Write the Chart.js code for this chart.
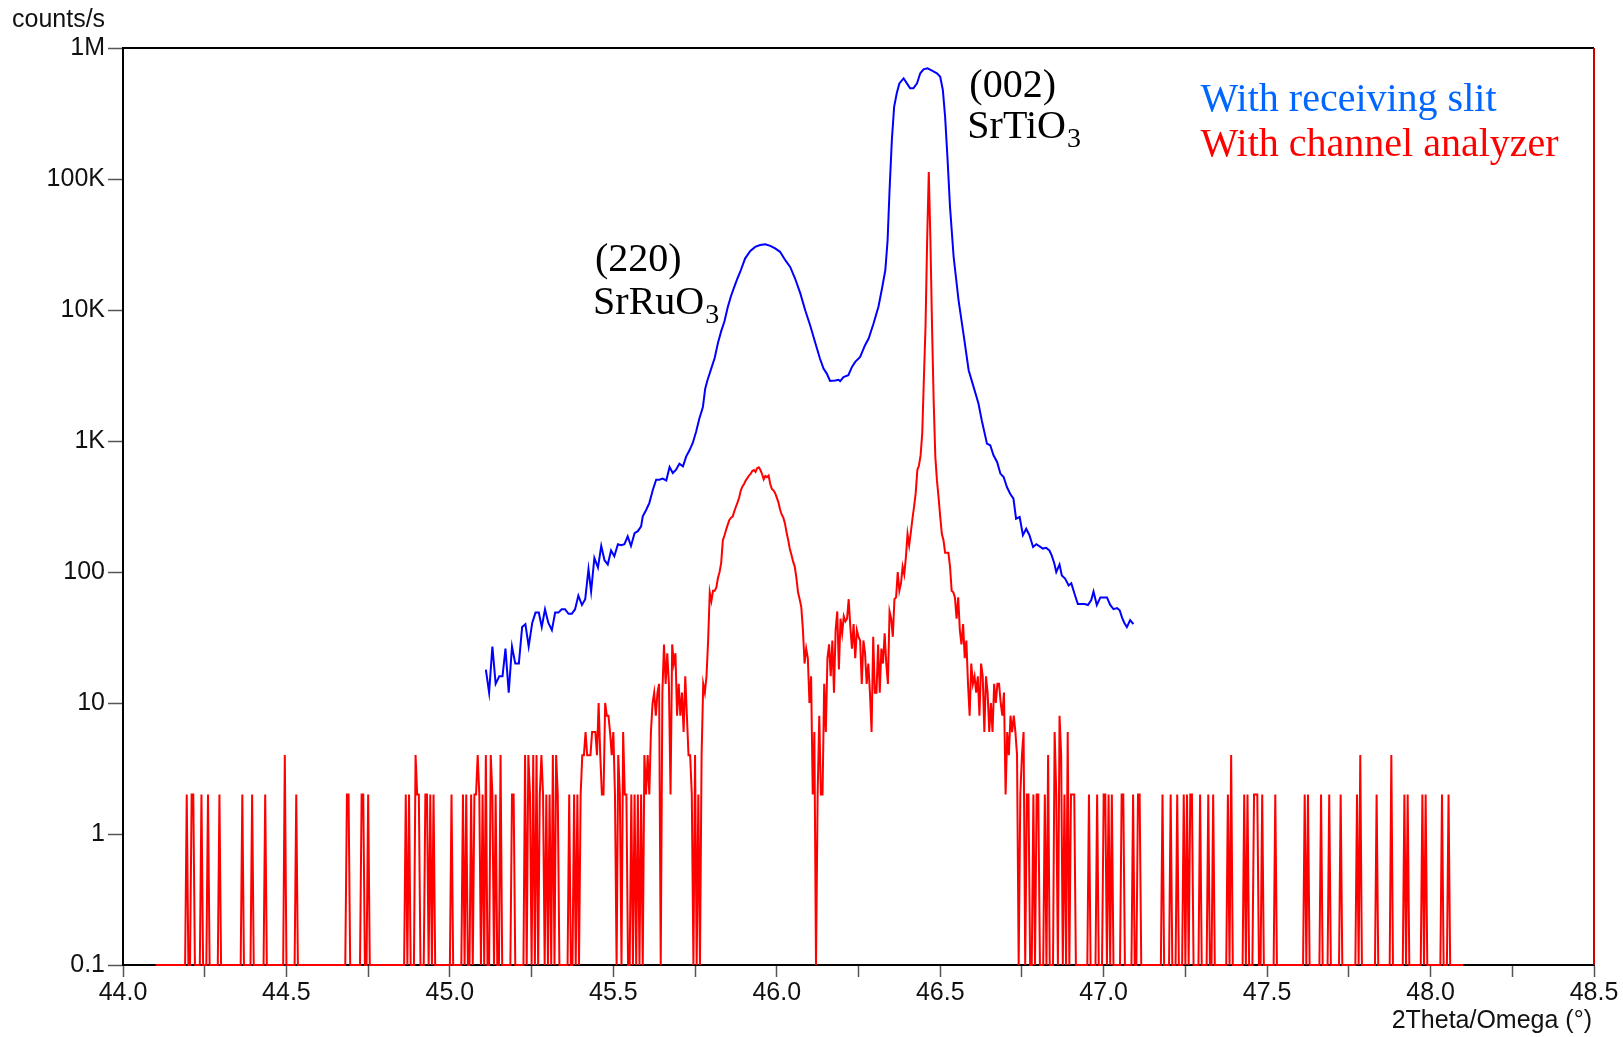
<!DOCTYPE html>
<html>
<head>
<meta charset="utf-8">
<script src="https://cdn.jsdelivr.net/npm/chart.js@4.4.0/dist/chart.umd.min.js"></script>
<style>
  html, body { margin: 0; padding: 0; background: #fff; }
  canvas { display: block; }
</style>
</head>
<body>
<canvas id="chart" width="1623" height="1037"></canvas>
<script>
// 2Theta/Omega scans around SrTiO3 (002) / SrRuO3 (220), two detector setups

// with receiving slit: [2theta, counts/s]
const slitScan = [
  [45.110,18],[45.120,12],[45.130,27],[45.140,14],[45.151,16],[45.161,16],[45.170,26],[45.180,12],[45.190,27],[45.200,20],
  [45.211,20],[45.221,38],[45.231,40],[45.241,27],[45.252,41],[45.262,49],[45.272,49],[45.281,38],[45.291,52],[45.301,41],
  [45.312,36],[45.322,49],[45.332,49],[45.342,52],[45.352,52],[45.363,48],[45.373,48],[45.383,52],[45.393,66],[45.404,56],
  [45.414,62],[45.424,105],[45.432,71],[45.442,128],[45.453,108],[45.463,158],[45.473,123],[45.483,114],[45.493,146],[45.503,132],
  [45.514,163],[45.524,160],[45.534,163],[45.544,187],[45.554,158],[45.565,198],[45.575,205],[45.585,223],[45.590,266],[45.600,296],
  [45.610,336],[45.621,425],[45.631,507],[45.641,507],[45.651,516],[45.662,500],[45.672,633],[45.682,570],[45.692,604],[45.702,671],
  [45.713,641],[45.723,764],[45.733,849],[45.743,966],[45.753,1170],[45.763,1480],[45.774,1820],[45.781,2510],[45.788,2910],[45.800,3600],
  [45.810,4300],[45.820,5600],[45.830,6900],[45.840,8200],[45.850,10500],[45.860,12800],[45.870,15000],[45.880,17500],[45.888,19500],[45.903,24700],
  [45.919,28200],[45.934,30300],[45.949,31300],[45.965,31800],[45.980,30900],[45.995,29500],[46.010,27800],[46.026,24000],[46.041,21300],[46.056,17400],
  [46.072,13400],[46.087,9950],[46.102,7650],[46.117,5700],[46.132,4260],[46.143,3570],[46.153,3270],[46.163,2870],[46.179,2900],[46.189,2930],
  [46.194,2870],[46.204,3080],[46.219,3180],[46.230,3680],[46.240,4020],[46.255,4390],[46.270,5390],[46.281,6060],[46.296,7880],[46.311,10600],
  [46.321,14200],[46.332,20100],[46.339,34000],[46.345,82000],[46.352,198000],[46.359,356000],[46.367,451000],[46.375,537000],[46.388,587000],[46.398,537000],
  [46.408,492000],[46.418,492000],[46.429,537000],[46.439,641000],[46.449,688000],[46.461,700000],[46.475,672000],[46.490,641000],[46.500,604000],[46.508,478000],
  [46.515,298000],[46.522,148000],[46.530,61000],[46.541,25500],[46.556,11900],[46.571,6600],[46.587,3470],[46.602,2590],[46.617,1930],[46.627,1440],
  [46.643,955],[46.653,927],[46.663,778],[46.674,692],[46.684,564],[46.694,531],[46.704,445],[46.714,396],[46.724,363],[46.732,255],
  [46.743,263],[46.753,191],[46.763,214],[46.773,191],[46.784,155],[46.794,163],[46.804,157],[46.814,151],[46.824,153],[46.834,146],
  [46.841,134],[46.849,116],[46.855,100],[46.865,114],[46.872,94],[46.882,89],[46.893,79],[46.901,82],[46.911,68],[46.921,57],
  [46.931,57],[46.942,57],[46.952,56],[46.962,61],[46.969,71],[46.979,56],[46.990,64],[47.000,64],[47.010,64],[47.020,56],
  [47.030,52],[47.041,53],[47.049,51],[47.056,45],[47.063,41],[47.071,38],[47.081,43],[47.091,40]
];

// with channel analyzer: counts/s every 0.005 deg from 44.100, one row per 0.1 deg
const analyzerStart = 44.1;
const analyzerStep = 0.005;
const analyzerRows = [
  [0,0,0,0,0,0,0,0,0,0,0,0,0,0,0,0,0,0,0,2],           // 44.1
  [0,0,2,2,0,0,0,0,2,0,0,0,2,0,0,0,0,0,0,2],           // 44.2
  [0,0,0,0,0,0,0,0,0,0,0,0,0,2,0,0,0,0,0,2],           // 44.3
  [0,0,0,0,0,0,0,2,0,0,0,0,0,0,0,0,0,0,0,4],           // 44.4
  [0,0,0,0,0,0,2,0,0,0,0,0,0,0,0,0,0,0,0,0],           // 44.5
  [0,0,0,0,0,0,0,0,0,0,0,0,0,0,0,0,0,2,2,0],           // 44.6
  [0,0,0,0,0,0,2,2,0,0,2,0,0,0,0,0,0,0,0,0],           // 44.7
  [0,0,0,0,0,0,0,0,0,0,0,0,0,2,0,2,0,0,0,4],           // 44.8
  [2,2,0,0,0,2,2,0,2,0,2,0,0,0,0,0,0,0,0,0],           // 44.9
  [0,2,0,0,0,0,0,0,2,0,2,0,0,2,0,2,2,4,2,0],           // 45.0
  [2,0,4,0,0,4,2,0,2,0,0,4,0,0,0,0,0,0,2,2],           // 45.1
  [0,0,0,0,0,0,4,0,4,2,0,4,0,4,0,2,4,2,0,2],           // 45.2
  [0,2,0,4,0,4,2,0,0,0,0,0,0,2,0,0,2,0,2,0],           // 45.3
  [2,4,4,6,4,4,4,6,6,6,4,10,4,2,2,10,8,8,6,4],         // 45.4
  [6,2,0,4,2,0,6,2,2,0,0,2,0,2,0,2,0,2,0,4],           // 45.5
  [2,4,2,6,10,12,8,12,14,0,12,28,14,24,14,2,28,20,24,8], // 45.6
  [14,8,12,6,16,8,4,4,2,0,4,0,2,0,4,14,12,16,30,70],   // 45.7
  [60,72,72,76,90,100,118,175,190,210,230,250,260,265,290,315,340,370,420,450], // 45.8
  [470,500,520,545,560,590,600,580,620,630,600,560,510,540,530,545,470,430,420,400], // 45.9
  [370,340,300,275,260,235,200,175,150,135,120,110,90,70,62,54,36,20,26,22], // 46.0
  [10,16,2,6,0,2,8,2,2,14,6,22,28,16,30,12,36,50,18,44], // 46.1
  [34,46,42,44,62,38,26,40,22,36,32,30,14,30,24,14,20,12,6,32], // 46.2
  [12,12,28,12,26,20,34,20,14,50,44,32,62,64,100,72,82,110,96,130], // 46.3
  [195,160,200,255,315,400,600,650,780,1140,3000,7400,34000,113000,34000,7400,2000,760,500,370], // 46.4
  [265,195,175,140,140,140,110,72,70,64,44,64,36,28,40,22,30,14,8,20], // 46.5
  [14,16,12,16,8,20,16,6,16,12,6,10,6,14,10,14,14,10,8,12], // 46.6
  [2,6,4,8,6,8,6,4,0,2,4,6,0,2,2,0,0,2,0,2],           // 46.7
  [2,0,0,0,2,0,4,0,0,0,6,2,0,8,4,0,2,0,6,0],           // 46.8
  [2,2,2,0,0,0,0,0,0,0,0,2,0,0,0,0,2,0,0,0],           // 46.9
  [2,2,0,2,0,2,0,0,0,0,0,2,2,0,0,0,0,0,2,0],           // 47.0
  [0,2,2,0,0,0,0,0,0,0,0,0,0,0,0,0,2,0,0,0],           // 47.1
  [0,2,0,0,0,2,0,0,0,2,0,2,0,2,2,0,0,0,0,2],           // 47.2
  [0,0,0,0,2,0,0,2,0,0,0,0,0,0,0,0,2,0,4,0],           // 47.3
  [0,0,0,0,0,0,2,0,2,0,0,0,2,2,2,0,0,2,0,0],           // 47.4
  [0,0,0,0,0,2,0,0,0,0,0,0,0,0,0,0,0,0,0,0],           // 47.5
  [0,0,0,2,0,2,0,0,0,0,0,0,0,2,0,0,0,0,2,0],           // 47.6
  [0,0,0,0,0,2,0,0,0,0,0,0,0,0,0,2,0,4,0,0],           // 47.7
  [0,0,0,0,0,0,0,2,0,0,0,0,0,0,0,0,4,0,0,0],           // 47.8
  [0,0,0,0,2,0,2,0,0,0,0,0,0,0,0,2,0,2,0,0],           // 47.9
  [0,0,0,0,0,0,0,2,0,0,0,2,0,0,0,0,0,0,0,0],           // 48.0
  [0]                                                  // 48.1
];

const yDecades = [0.1, 1, 10, 100, 1e3, 1e4, 1e5, 1e6];
const yDecadeLabels = ['0.1', '1', '10', '100', '1K', '10K', '100K', '1M'];

// text placed at [2theta, counts] (left end of baseline)
const peakLabels = [
  {text: '(002)', theta: 46.589, counts: 4.2e5},
  {text: 'SrTiO', sub: '3', theta: 46.583, counts: 2.05e5},
  {text: '(220)', theta: 45.444, counts: 1.98e4},
  {text: 'SrRuO', sub: '3', theta: 45.438, counts: 9.4e3}
];
const legendLines = [
  {text: 'With receiving slit', color: '#0066ff', theta: 47.296, counts: 3.3e5},
  {text: 'With channel analyzer', color: '#ff0000', theta: 47.296, counts: 1.5e5}
];

const yFloor = 0.1; // zero counts sit on the bottom axis

const slitPoints = slitScan.map(([t, c]) => ({x: t, y: c}));
const analyzerPoints = analyzerRows.flat().map((c, i) => ({
  x: +(analyzerStart + i * analyzerStep).toFixed(3),
  y: Math.max(c, yFloor)
}));

const serif = '"Liberation Serif", "Times New Roman", serif';

function drawText(ctx, xs, ys, item, color) {
  const px = xs.getPixelForValue(item.theta);
  const py = ys.getPixelForValue(item.counts);
  ctx.fillStyle = color || item.color;
  ctx.font = '40px ' + serif;
  ctx.fillText(item.text, px, py);
  if (item.sub) {
    const w = ctx.measureText(item.text).width;
    ctx.font = '28px ' + serif;
    ctx.fillText(item.sub, px + w + 1, py + 9);
  }
}

const overlay = {
  id: 'overlay',
  afterDraw(chart) {
    const {ctx, chartArea: a} = chart;
    const xs = chart.scales.x, ys = chart.scales.y;
    ctx.save();
    ctx.lineWidth = 2;
    ctx.strokeStyle = '#000';
    ctx.beginPath();
    ctx.moveTo(a.left, a.top);
    ctx.lineTo(a.right, a.top);
    ctx.stroke();
    ctx.strokeStyle = '#cc0000';
    ctx.beginPath();
    ctx.moveTo(a.right, a.top);
    ctx.lineTo(a.right, a.bottom);
    ctx.stroke();

    ctx.fillStyle = '#111';
    ctx.font = '25px "Liberation Sans", Arial, sans-serif';
    ctx.textBaseline = 'alphabetic';
    ctx.textAlign = 'left';
    ctx.fillText('counts/s', 12, a.top - 21);
    ctx.textAlign = 'right';
    ctx.fillText('2Theta/Omega (°)', a.right - 2, a.bottom + 63);

    ctx.textAlign = 'left';
    peakLabels.forEach(p => drawText(ctx, xs, ys, p, '#000'));
    legendLines.forEach(p => drawText(ctx, xs, ys, p));
    ctx.restore();
  }
};

Chart.defaults.font.family = '"Liberation Sans", Arial, sans-serif';
Chart.defaults.color = '#111';

new Chart(document.getElementById('chart').getContext('2d'), {
  type: 'line',
  data: {
    datasets: [
      {
        label: 'With receiving slit',
        data: slitPoints,
        borderColor: '#0000ff',
        borderWidth: 2,
        pointRadius: 0,
        tension: 0,
        clip: false
      },
      {
        label: 'With channel analyzer',
        data: analyzerPoints,
        borderColor: '#ff0000',
        borderWidth: 2,
        pointRadius: 0,
        tension: 0,
        clip: false
      }
    ]
  },
  options: {
    responsive: false,
    devicePixelRatio: 1,
    animation: false,
    parsing: false,
    layout: {padding: {top: 48, right: 29, left: 0, bottom: 0}},
    plugins: {legend: {display: false}, tooltip: {enabled: false}},
    scales: {
      x: {
        type: 'linear',
        min: 44,
        max: 48.5,
        afterFit: s => { s.height = 72; },
        border: {display: true, color: '#000', width: 2},
        grid: {drawOnChartArea: false, drawTicks: true, tickLength: 12, tickColor: '#555', tickWidth: 1.5},
        ticks: {
          stepSize: 0.25,
          autoSkip: false,
          maxRotation: 0,
          padding: 1,
          font: {size: 25},
          callback: v => Math.abs(v * 2 - Math.round(v * 2)) < 1e-6 ? v.toFixed(1) : ''
        }
      },
      y: {
        type: 'logarithmic',
        min: 0.1,
        max: 1e6,
        afterFit: s => { s.width = 123; },
        afterBuildTicks: s => { s.ticks = yDecades.map(v => ({value: v})); },
        border: {display: true, color: '#000', width: 2},
        grid: {drawOnChartArea: false, drawTicks: true, tickLength: 15, tickColor: '#555', tickWidth: 1.5},
        ticks: {
          autoSkip: false,
          padding: 3,
          font: {size: 25},
          callback: v => {
            const i = yDecades.findIndex(d => Math.abs(d - v) / d < 1e-6);
            return i >= 0 ? yDecadeLabels[i] : '';
          }
        }
      }
    }
  },
  plugins: [overlay]
});
</script>
</body>
</html>
